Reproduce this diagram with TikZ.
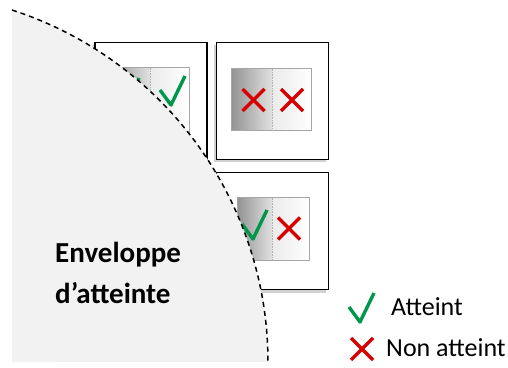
\documentclass[tikz,border=0pt]{standalone}
\usepackage{fontspec}
\setmainfont{Carlito}
\usetikzlibrary{positioning, shadows}

\definecolor{okgreen}{RGB}{0,150,75}
\definecolor{kored}{RGB}{215,0,0}
\definecolor{zonegray}{RGB}{242,242,242}

\begin{document}
\begin{tikzpicture}[x=1pt, y=1pt,
		cell/.style={rectangle, draw=black, line width=1.5pt, fill=white, minimum width=112pt, minimum height=117pt, drop shadow={shadow xshift=-3pt, shadow yshift=-3pt, fill=black!30, opacity=.6}},
		halfdark/.style={rectangle, inner sep=0pt, minimum height=62pt, left color=black!42, right color=black!12},
		halflight/.style={rectangle, inner sep=0pt, minimum height=62pt, left color=black!8, right color=white},
		frame/.style={draw=black!35, line width=1pt},
		split/.style={draw=black!30, densely dotted, line width=.6pt},
		okline/.style={draw=okgreen, line width=3.4pt, line join=round},
		koline/.style={draw=kored, line width=3.2pt},
		pics/ok/.style={code={\draw[okline] (-11,1) -- (0,-14) -- (14,15);}},
		pics/ko/.style={code={\draw[koline] (-11,-11) -- (11,11) (-11,11) -- (11,-11);}},
		zone/.style={fill=zonegray},
		rimline/.style={dash pattern=on 5pt off 4pt, line width=1.5pt}
		]
		\useasboundingbox (0,0) rectangle (508,367);
		
		% Three workspace cells
		\node[cell] (b1) at (151,266) {};
		\node[cell] (b2) at (272.5,266) {};
		\node[cell] (b3) at (272.5,136) {};
		
		% Two-sided panels inside the cells
		\node[halfdark, minimum width=40pt, minimum height=64pt, anchor=east] (p1a) at (150,267) {};
		\node[halflight, minimum width=39pt, minimum height=64pt, right=0pt of p1a] (p1b) {};
		\draw[frame] (p1a.north west) rectangle (p1b.south east);
		\draw[split] (p1a.north east) -- (p1a.south east);
		
		\node[halfdark, minimum width=40pt, minimum height=61pt, anchor=east] (p2a) at (272,267.5) {};
		\node[halflight, minimum width=39pt, minimum height=61pt, right=0pt of p2a] (p2b) {};
		\draw[frame] (p2a.north west) rectangle (p2b.south east);
		\draw[split] (p2a.north east) -- (p2a.south east);
		
		\node[halfdark, minimum width=34pt, anchor=east] (p3a) at (272,138) {};
		\node[halflight, minimum width=37pt, right=0pt of p3a] (p3b) {};
		\draw[frame] (p3a.north west) rectangle (p3b.south east);
		\draw[split] (p3a.north east) -- (p3a.south east);
		
		% Marks
		\pic at (125,274) {ok};
		\pic at (171,276) {ok};
		\pic at (253.5,267) {ko};
		\pic at (292,267) {ko};
		\pic at (253,142) {ok};
		\pic at (289,138.5) {ko};
		
		% Reach envelope on top
		\fill[zone] (12,5) -- (12,357) arc[start angle=72.05, end angle=0, radius=370] -- cycle;
		\draw[rimline] (12,357) arc[start angle=72.05, end angle=0, radius=370];
		\node[anchor=west, align=left, inner sep=0pt, font=\bfseries\fontsize{29}{41}\selectfont] (envlabel) at (55,94.5) {Enveloppe\\d’atteinte};
		
		% Legend
		\pic at (360,59) {ok};
		\pic at (362,18) {ko};
		\node[anchor=west, inner sep=0pt, font=\fontsize{26}{30}\selectfont] (legok) at (391,60) {Atteint};
		\node[anchor=west, inner sep=0pt, font=\fontsize{26}{30}\selectfont] (legko) at (386,19) {Non atteint};
		
	\end{tikzpicture}
\end{document}
